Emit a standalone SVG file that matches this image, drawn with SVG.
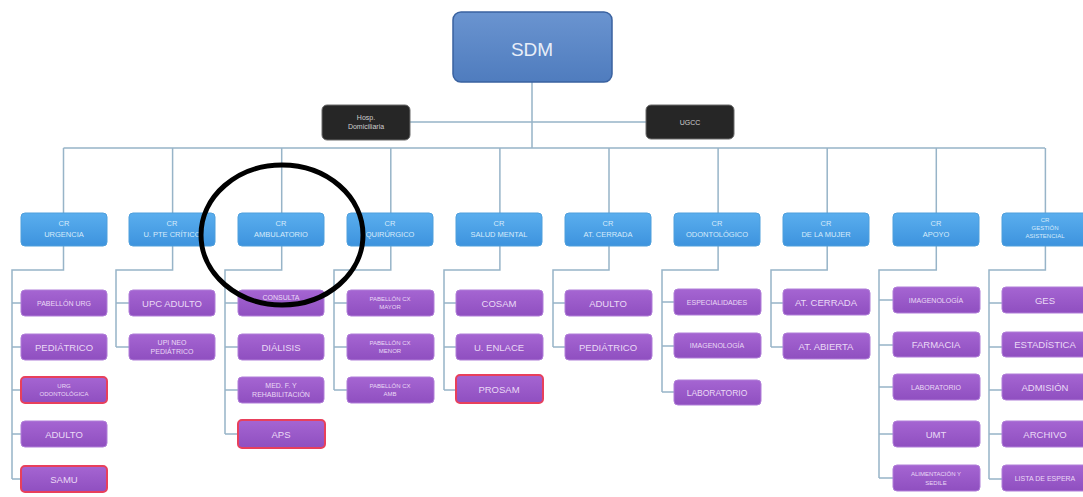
<svg xmlns="http://www.w3.org/2000/svg" width="1083" height="497" viewBox="0 0 1083 497">
<defs>
<linearGradient id="gTop" x1="0" y1="0" x2="0" y2="1"><stop offset="0" stop-color="#6a94d0"/><stop offset="1" stop-color="#4f7cbe"/></linearGradient>
<linearGradient id="gCr" x1="0" y1="0" x2="0" y2="1"><stop offset="0" stop-color="#5aaeee"/><stop offset="1" stop-color="#3d93de"/></linearGradient>
<linearGradient id="gSub" x1="0" y1="0" x2="0" y2="1"><stop offset="0" stop-color="#a565d2"/><stop offset="1" stop-color="#8f4fc0"/></linearGradient>
</defs>
<style>
.top{fill:url(#gTop);stroke:#3a62a0;stroke-width:1.5}
.dark{fill:#262626;stroke:#6a6a6a;stroke-width:1}
.cr{fill:url(#gCr);stroke:#4f9fdc;stroke-width:1}
.sub{fill:url(#gSub);stroke:#b07ed8;stroke-width:1}
.red{fill:url(#gSub);stroke:#e8405c;stroke-width:2}
.ln{fill:none;stroke:#97b4c8;stroke-width:1.5}
text{font-family:"Liberation Sans",Arial,sans-serif;text-anchor:middle}
.tt{fill:#e8eef8;font-size:19px}
.td{fill:#cfcfcf;font-size:7px}
.tc{fill:#d6ebfb;font-size:7.5px}
.ts{fill:#ead9f6;font-size:9.5px}
.tm{fill:#ead9f6;font-size:7px}
.circ{fill:none;stroke:#000;stroke-width:5}
</style>
<g id="connectors" class="ln">
<path d="M532 82V148M410 122H646M63.5 148H1045"/>
<path d="M63.5 148V213M172.6 148V213M281.7 148V213M390.8 148V213M499.9 148V213M609 148V213M718.1 148V213M827.2 148V213M936.3 148V213M1045.4 148V213"/>
<path d="M63.5 246V270H12V479M12 303H21M12 347H21M12 390H21M12 434H21M12 479H21"/>
<path d="M172.6 246V270H116V347M116 303H129M116 347H129"/>
<path d="M281.7 246V270H225V434M225 303H238M225 347H238M225 390H238M225 434H238"/>
<path d="M390.8 246V270H334V390M334 303H347M334 347H347M334 390H347"/>
<path d="M499.9 246V270H444V390M444 303H456M444 347H456M444 390H456"/>
<path d="M609 246V270H553V347M553 303H565M553 347H565"/>
<path d="M718.1 246V270H662V392M662 302H674M662 346H674M662 392H674"/>
<path d="M827.2 246V270H771V347M771 303H783M771 347H783"/>
<path d="M936.3 246V270H879V478M879 300H893M879 345H893M879 387H893M879 434H893M879 478H893"/>
<path d="M1045.4 246V270H989V479M989 303H1002M989 347H1002M989 390H1002M989 434H1002M989 479H1002"/>
</g>
<g id="sdm"><rect class="top" x="453" y="12" width="159" height="70" rx="8"/><text class="tt" x="532" y="56">SDM</text></g>
<g id="hosp"><rect class="dark" x="322" y="105" width="88" height="35" rx="5"/><text class="td" x="366" y="120">Hosp.</text><text class="td" x="366" y="129">Domiciliaria</text></g>
<g id="ugcc"><rect class="dark" x="646" y="105" width="88" height="34" rx="5"/><text class="td" x="690" y="125">UGCC</text></g>

<g id="cr-urgencia"><rect class="cr" x="21" y="213" width="86" height="33" rx="4"/><text class="tc" x="64" y="226">CR</text><text class="tc" x="64" y="237">URGENCIA</text></g>
<g id="cr-upc"><rect class="cr" x="129" y="213" width="86" height="33" rx="4"/><text class="tc" x="172" y="226">CR</text><text class="tc" x="172" y="237">U. PTE CRÍTICO</text></g>
<g id="cr-ambulatorio"><rect class="cr" x="238" y="213" width="86" height="33" rx="4"/><text class="tc" x="281" y="226">CR</text><text class="tc" x="281" y="237">AMBULATORIO</text></g>
<g id="cr-quirurgico"><rect class="cr" x="347" y="213" width="86" height="33" rx="4"/><text class="tc" x="390" y="226">CR</text><text class="tc" x="390" y="237">QUIRÚRGICO</text></g>
<g id="cr-salud-mental"><rect class="cr" x="456" y="213" width="86" height="33" rx="4"/><text class="tc" x="499" y="226">CR</text><text class="tc" x="499" y="237">SALUD MENTAL</text></g>
<g id="cr-at-cerrada"><rect class="cr" x="565" y="213" width="86" height="33" rx="4"/><text class="tc" x="608" y="226">CR</text><text class="tc" x="608" y="237">AT. CERRADA</text></g>
<g id="cr-odontologico"><rect class="cr" x="674" y="213" width="86" height="33" rx="4"/><text class="tc" x="717" y="226">CR</text><text class="tc" x="717" y="237">ODONTOLÓGICO</text></g>
<g id="cr-mujer"><rect class="cr" x="783" y="213" width="86" height="33" rx="4"/><text class="tc" x="826" y="226">CR</text><text class="tc" x="826" y="237">DE LA MUJER</text></g>
<g id="cr-apoyo"><rect class="cr" x="893" y="213" width="86" height="33" rx="4"/><text class="tc" x="936" y="226">CR</text><text class="tc" x="936" y="237">APOYO</text></g>
<g id="cr-gestion"><rect class="cr" x="1002" y="213" width="86" height="33" rx="4"/><text class="tc" x="1045" y="222" style="font-size:6px">CR</text><text class="tc" x="1045" y="230" style="font-size:6px">GESTIÓN</text><text class="tc" x="1045" y="238" style="font-size:6px">ASISTENCIAL</text></g>

<g id="u-pabellon-urg"><rect class="sub" x="21" y="290" width="86" height="26" rx="4"/><text class="tm" x="64" y="306">PABELLÓN URG</text></g>
<g id="u-pediatrico"><rect class="sub" x="21" y="334" width="86" height="26" rx="4"/><text class="ts" x="64" y="351">PEDIÁTRICO</text></g>
<g id="u-urg-odonto"><rect class="red" x="21" y="377" width="86" height="26" rx="4"/><text class="tm" x="64" y="388" style="font-size:6px">URG</text><text class="tm" x="64" y="396" style="font-size:6px">ODONTOLÓGICA</text></g>
<g id="u-adulto"><rect class="sub" x="21" y="421" width="86" height="26" rx="4"/><text class="ts" x="64" y="438">ADULTO</text></g>
<g id="u-samu"><rect class="red" x="21" y="466" width="86" height="26" rx="4"/><text class="ts" x="64" y="483">SAMU</text></g>

<g id="u-upc-adulto"><rect class="sub" x="129" y="290" width="86" height="26" rx="4"/><text class="ts" x="172" y="307">UPC ADULTO</text></g>
<g id="u-upi-neo"><rect class="sub" x="129" y="334" width="86" height="26" rx="4"/><text class="tm" x="172" y="345">UPI NEO</text><text class="tm" x="172" y="354">PEDIÁTRICO</text></g>

<g id="u-consulta"><rect class="sub" x="238" y="290" width="86" height="26" rx="4"/><text class="tm" x="281" y="300">CONSULTA</text></g>
<g id="u-dialisis"><rect class="sub" x="238" y="334" width="86" height="26" rx="4"/><text class="ts" x="281" y="351">DIÁLISIS</text></g>
<g id="u-medf"><rect class="sub" x="238" y="377" width="86" height="26" rx="4"/><text class="tm" x="281" y="388">MED. F. Y</text><text class="tm" x="281" y="397">REHABILITACIÓN</text></g>
<g id="u-aps"><rect class="red" x="238" y="420" width="87" height="28" rx="4"/><text class="ts" x="281" y="438">APS</text></g>

<g id="u-pab-mayor"><rect class="sub" x="347" y="290" width="87" height="26" rx="4"/><text class="tm" x="390" y="301" style="font-size:6px">PABELLÓN CX</text><text class="tm" x="390" y="309" style="font-size:6px">MAYOR</text></g>
<g id="u-pab-menor"><rect class="sub" x="347" y="334" width="87" height="26" rx="4"/><text class="tm" x="390" y="345" style="font-size:6px">PABELLÓN CX</text><text class="tm" x="390" y="353" style="font-size:6px">MENOR</text></g>
<g id="u-pab-amb"><rect class="sub" x="347" y="377" width="87" height="26" rx="4"/><text class="tm" x="390" y="388" style="font-size:6px">PABELLÓN CX</text><text class="tm" x="390" y="396" style="font-size:6px">AMB</text></g>

<g id="u-cosam"><rect class="sub" x="456" y="290" width="87" height="26" rx="4"/><text class="ts" x="499" y="307">COSAM</text></g>
<g id="u-enlace"><rect class="sub" x="456" y="334" width="87" height="26" rx="4"/><text class="ts" x="499" y="351">U. ENLACE</text></g>
<g id="u-prosam"><rect class="red" x="456" y="375" width="87" height="28" rx="4"/><text class="ts" x="499" y="393">PROSAM</text></g>

<g id="u-cer-adulto"><rect class="sub" x="565" y="290" width="87" height="26" rx="4"/><text class="ts" x="608" y="307">ADULTO</text></g>
<g id="u-cer-pediatrico"><rect class="sub" x="565" y="334" width="87" height="26" rx="4"/><text class="ts" x="608" y="351">PEDIÁTRICO</text></g>

<g id="u-especialidades"><rect class="sub" x="674" y="289" width="87" height="26" rx="4"/><text class="tm" x="717" y="305">ESPECIALIDADES</text></g>
<g id="u-odo-imagen"><rect class="sub" x="674" y="333" width="87" height="25" rx="4"/><text class="tm" x="717" y="348">IMAGENOLOGÍA</text></g>
<g id="u-odo-lab"><rect class="sub" x="674" y="380" width="87" height="25" rx="4"/><text class="ts" x="717" y="396" style="font-size:8.5px">LABORATORIO</text></g>

<g id="u-mujer-cerrada"><rect class="sub" x="783" y="289" width="87" height="26" rx="4"/><text class="ts" x="826" y="306">AT. CERRADA</text></g>
<g id="u-mujer-abierta"><rect class="sub" x="783" y="333" width="87" height="26" rx="4"/><text class="ts" x="826" y="350">AT. ABIERTA</text></g>

<g id="u-apoyo-imagen"><rect class="sub" x="893" y="287" width="87" height="26" rx="4"/><text class="tm" x="936" y="303">IMAGENOLOGÍA</text></g>
<g id="u-farmacia"><rect class="sub" x="893" y="332" width="87" height="25" rx="4"/><text class="ts" x="936" y="348">FARMACIA</text></g>
<g id="u-apoyo-lab"><rect class="sub" x="893" y="374" width="87" height="26" rx="4"/><text class="tm" x="936" y="390">LABORATORIO</text></g>
<g id="u-umt"><rect class="sub" x="893" y="421" width="87" height="26" rx="4"/><text class="ts" x="936" y="438">UMT</text></g>
<g id="u-alimentacion"><rect class="sub" x="893" y="465" width="87" height="26" rx="4"/><text class="tm" x="936" y="476" style="font-size:6px">ALIMENTACIÓN Y</text><text class="tm" x="936" y="485" style="font-size:6px">SEDILE</text></g>

<g id="u-ges"><rect class="sub" x="1002" y="287" width="86" height="26" rx="4"/><text class="ts" x="1045" y="304">GES</text></g>
<g id="u-estadistica"><rect class="sub" x="1002" y="332" width="86" height="25" rx="4"/><text class="ts" x="1045" y="348">ESTADÍSTICA</text></g>
<g id="u-admision"><rect class="sub" x="1002" y="374" width="86" height="26" rx="4"/><text class="ts" x="1045" y="391">ADMISIÓN</text></g>
<g id="u-archivo"><rect class="sub" x="1002" y="421" width="86" height="26" rx="4"/><text class="ts" x="1045" y="438">ARCHIVO</text></g>
<g id="u-lista"><rect class="sub" x="1002" y="465" width="86" height="26" rx="4"/><text class="tm" x="1045" y="481">LISTA DE ESPERA</text></g>

<ellipse class="circ" cx="282" cy="235" rx="81" ry="70"/>
</svg>
